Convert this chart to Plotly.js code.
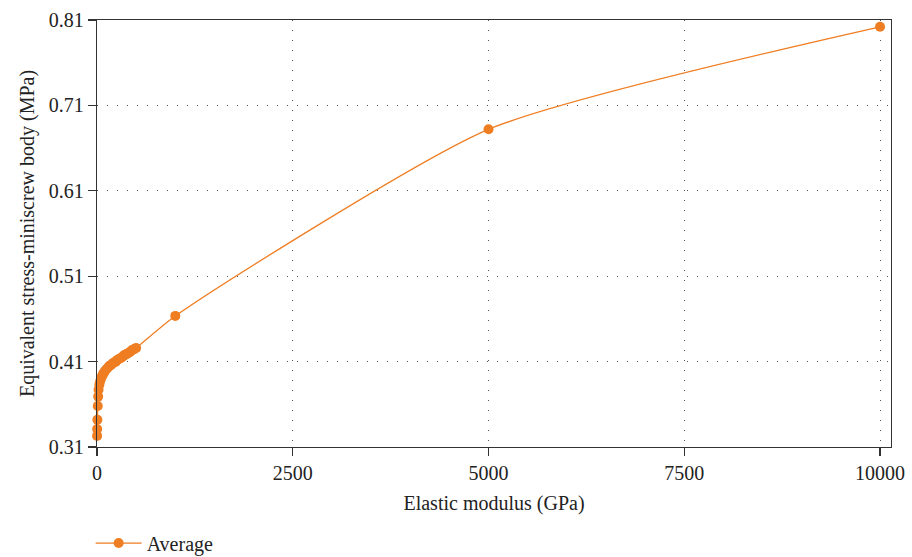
<!DOCTYPE html>
<html>
<head>
<meta charset="utf-8">
<script src="https://cdn.plot.ly/plotly-3.0.1.min.js"></script>
<style>html,body{margin:0;padding:0;background:#fff;}#chart{width:912px;height:557px;}</style>
</head>
<body>
<div id="chart"></div>
<script>
const seriesName = "Average";
const elasticModulus = [1, 2, 5, 10, 15, 20, 30, 40, 50, 60, 70, 80, 90, 100, 120, 140, 160, 180, 200, 220, 240, 260, 280, 300, 320, 340, 360, 380, 400, 420, 440, 460, 480, 500, 1000, 5000, 10000];
const stress = [0.323, 0.331, 0.342, 0.358, 0.369, 0.377, 0.383, 0.387, 0.390, 0.392, 0.394, 0.396, 0.397, 0.399, 0.401, 0.403, 0.405, 0.406, 0.408, 0.409, 0.410, 0.412, 0.413, 0.414, 0.415, 0.417, 0.418, 0.419, 0.420, 0.421, 0.423, 0.424, 0.425, 0.426, 0.4635, 0.682, 0.802];
const xTicks = [0, 2500, 5000, 7500, 10000];
const yTicks = [0.31, 0.41, 0.51, 0.61, 0.71, 0.81];

const orange = "#ef7d22";
const font = "Liberation Serif, Times New Roman, serif";

const trace = {
  x: elasticModulus, y: stress, name: seriesName,
  type: "scatter", mode: "lines+markers",
  line: {color: orange, width: 1.3, shape: "spline", smoothing: 0.6},
  marker: {color: orange, size: 10},
  cliponaxis: false,
  showlegend: true
};

const layout = {
  width: 912, height: 557,
  margin: {l: 97, r: 21, t: 20, b: 110, autoexpand: false},
  paper_bgcolor: "#fff", plot_bgcolor: "#fff",
  font: {family: font, size: 20, color: "#222"},
  showlegend: true,
  legend: {orientation: "h", x: -0.008, xanchor: "left", y: -0.225, yanchor: "middle",
           itemwidth: 46,
           font: {family: font, size: 20, color: "#222"}},
  xaxis: {
    range: [0, 10140], tickvals: xTicks, ticktext: xTicks.map(String),
    showline: true, linecolor: "#333", linewidth: 1.3, mirror: true,
    ticks: "outside", ticklen: 8, tickcolor: "#333", tickwidth: 1.3,
    showgrid: true, gridcolor: "#555", gridwidth: 1, griddash: "1px,9px",
    zeroline: false, automargin: false,
    title: {text: "Elastic modulus (GPa)", font: {family: font, size: 20, color: "#222"}, standoff: 12},
    tickfont: {family: font, size: 20, color: "#222"}
  },
  yaxis: {
    range: [0.31, 0.81], tickvals: yTicks, ticktext: yTicks.map(v => v.toFixed(2)),
    showline: true, linecolor: "#333", linewidth: 1.3, mirror: true,
    ticks: "outside", ticklen: 8, tickcolor: "#333", tickwidth: 1.3,
    showgrid: true, gridcolor: "#555", gridwidth: 1, griddash: "1px,9px",
    zeroline: false, automargin: false,
    title: {text: "Equivalent stress-miniscrew body (MPa)", font: {family: font, size: 20, color: "#222"}, standoff: 8},
    tickfont: {family: font, size: 20, color: "#222"}
  }
};

Plotly.newPlot("chart", [trace], layout, {displayModeBar: false, staticPlot: true});
</script>
</body>
</html>
